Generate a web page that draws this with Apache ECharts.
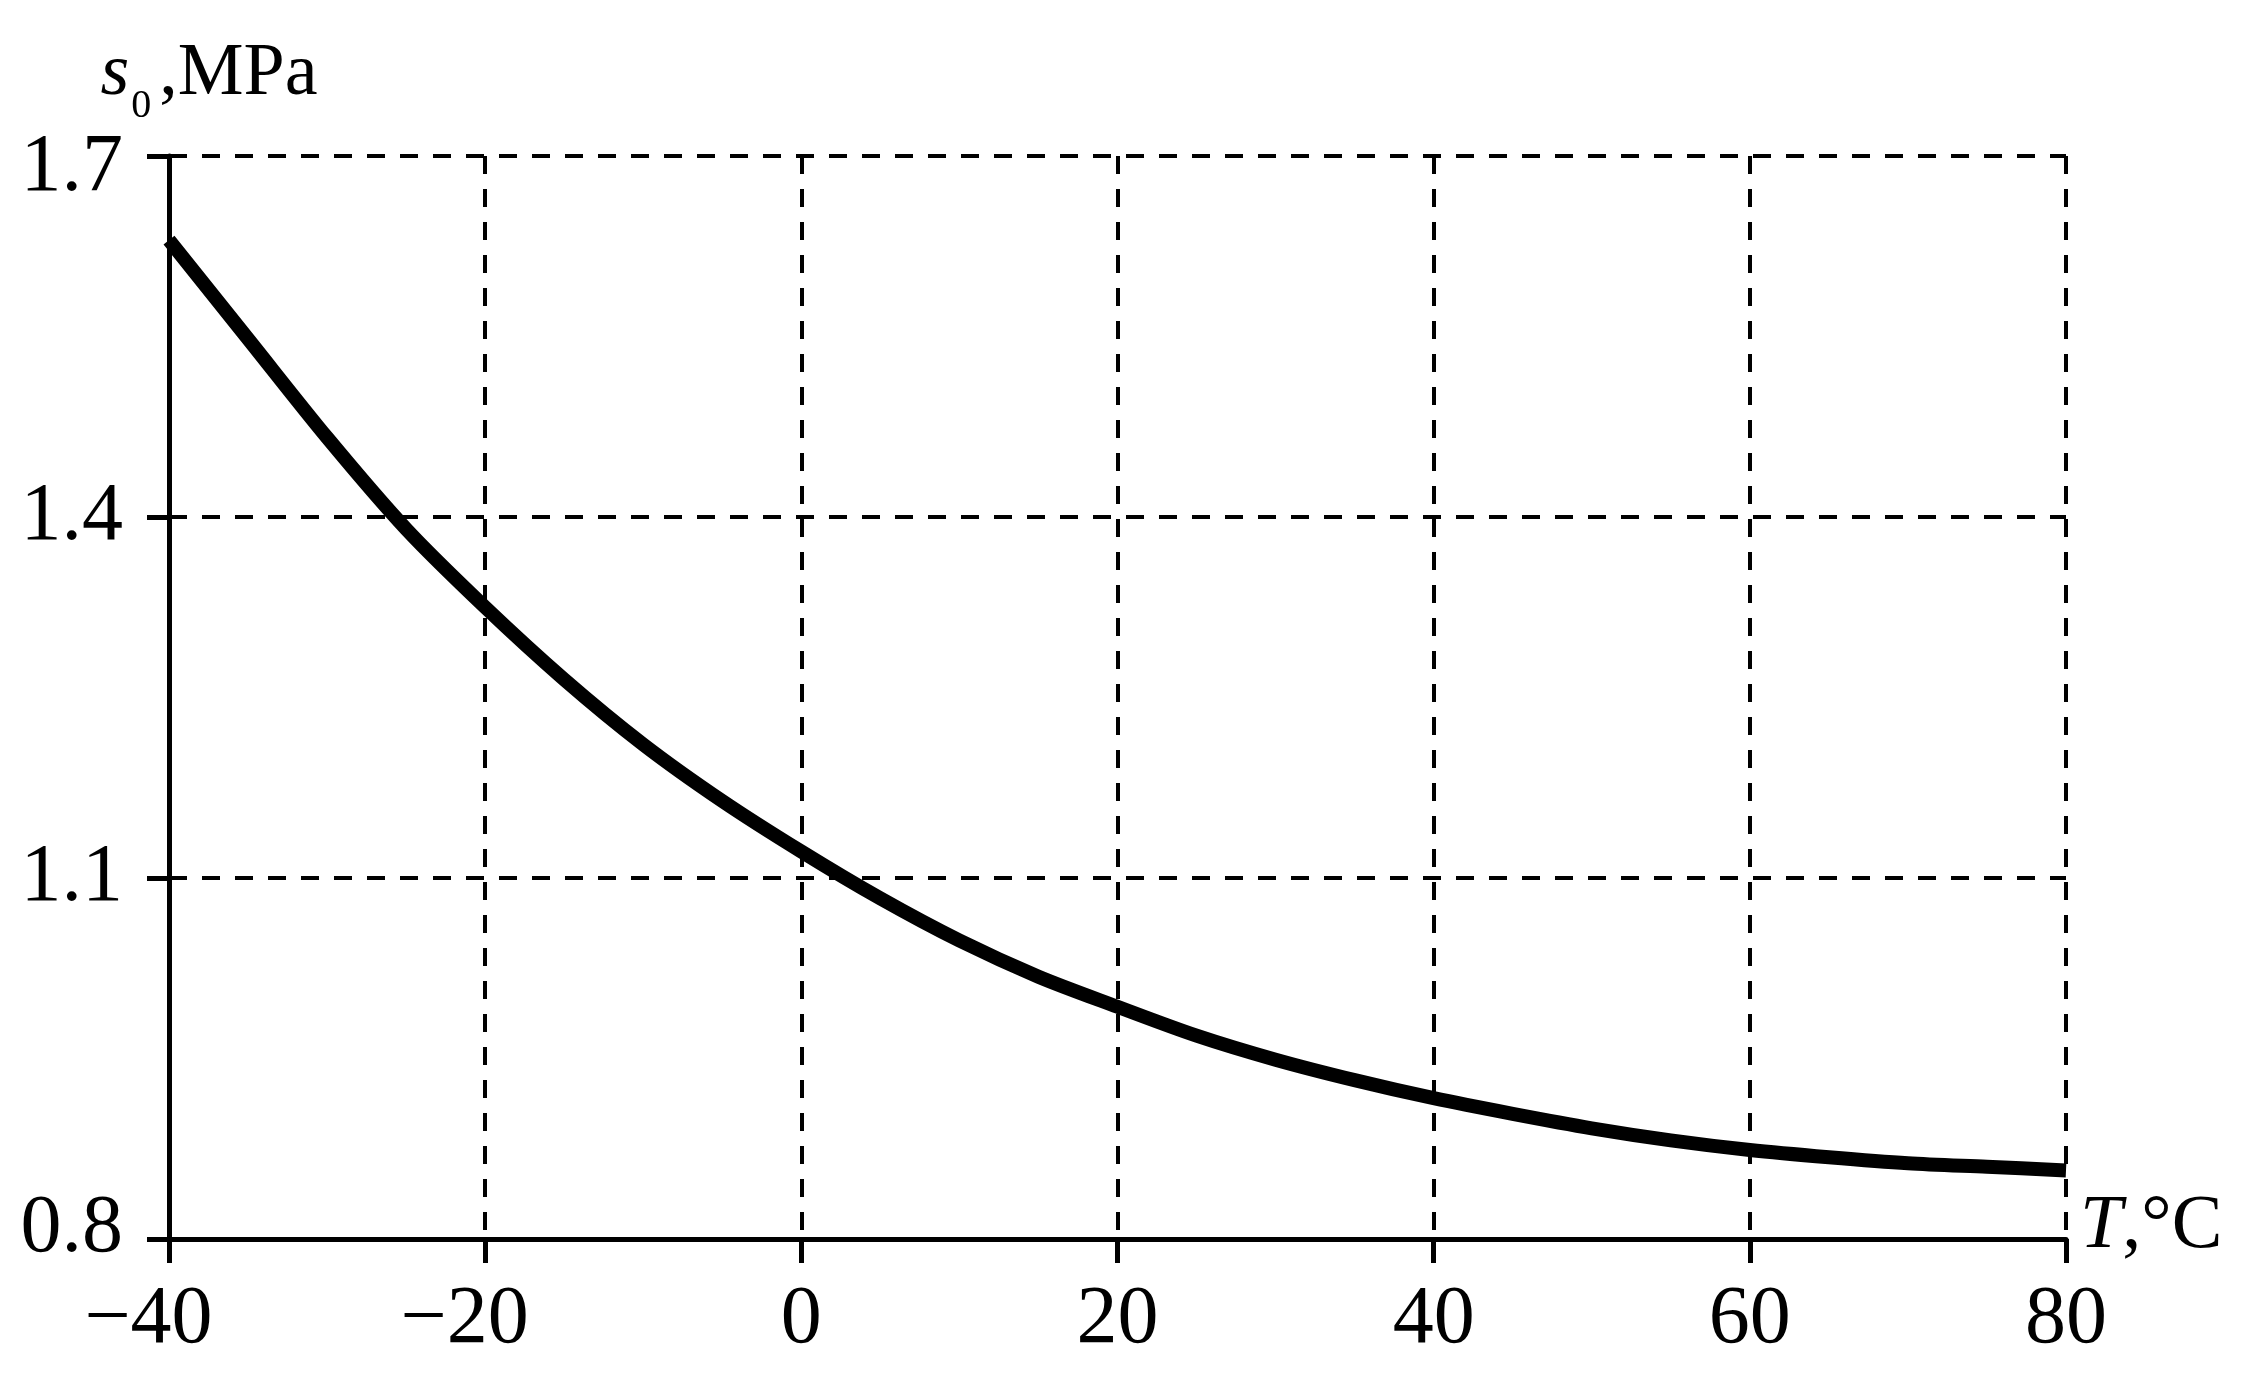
<!DOCTYPE html>
<html>
<head>
<meta charset="utf-8">
<title>s0 vs T</title>
<script src="https://cdn.jsdelivr.net/npm/echarts@6/dist/echarts.min.js"></script>
<style>
  html, body { margin: 0; padding: 0; background: #fff; }
  #chart { width: 2261px; height: 1392px; }
</style>
</head>
<body>
<div id="chart"></div>
<script>
// temperature, °C
const temps = [-40, -35, -30, -25, -20, -15, -10, -5, 0, 5, 10, 15, 20, 25, 30, 35, 40, 45, 50, 55, 60, 65, 70, 75, 80]
// s0, MPa
const s0 = [1.630, 1.548, 1.466, 1.390, 1.325, 1.265, 1.211, 1.164, 1.122, 1.083, 1.048, 1.018, 0.993, 0.969, 0.949, 0.932, 0.917, 0.904, 0.892, 0.882, 0.874, 0.868, 0.863, 0.860, 0.857]
// axis ticks
const xTicks = [-40, -20, 0, 20, 40, 60, 80]
const yTicks = [0.8, 1.1, 1.4, 1.7]

const font = '"Liberation Serif", "DejaVu Serif", serif'
const dashed = { color: '#000', width: 4, type: [18, 15] }

const chart = echarts.init(document.getElementById('chart'))
chart.setOption({
  backgroundColor: '#fff',
  animation: false,
  grid: { left: 169, right: 195, top: 156, bottom: 153 },
  xAxis: {
    type: 'value',
    min: xTicks[0],
    max: xTicks[xTicks.length - 1],
    interval: 20,
    name: '{i|T}{n|,°C}',
    nameLocation: 'end',
    nameGap: 14,
    nameTextStyle: {
      padding: [0, 0, 24, 0],
      rich: {
        i: { fontFamily: font, fontSize: 76, fontStyle: 'italic', color: '#000' },
        n: { fontFamily: font, fontSize: 76, color: '#000' }
      }
    },
    axisLine: { onZero: false, lineStyle: { color: '#000', width: 5 } },
    axisTick: { show: true, inside: false, length: 24, lineStyle: { color: '#000', width: 5 } },
    axisLabel: {
      margin: 40,
      color: '#000',
      fontFamily: font,
      fontSize: 82,
      formatter: function(v) {
        // minus sign hangs left of the tick, digits stay centred
        return v < 0 ? '\u2212' + Math.abs(v) + '\u2007' : String(v)
      }
    },
    splitLine: { show: true, lineStyle: dashed }
  },
  yAxis: {
    type: 'value',
    min: yTicks[0],
    max: yTicks[yTicks.length - 1],
    interval: 0.3,
    name: '{i|s}{sub|0}{n|,MPa}',
    nameLocation: 'end',
    nameGap: 30,
    nameTextStyle: {
      align: 'center',
      padding: [0, 0, 0, 80],
      rich: {
        i: { fontFamily: font, fontSize: 74, fontStyle: 'italic', color: '#000' },
        sub: { fontFamily: font, fontSize: 40, color: '#000', padding: [62, 8, 0, 2] },
        n: { fontFamily: font, fontSize: 74, color: '#000' }
      }
    },
    axisLine: { show: true, onZero: false, lineStyle: { color: '#000', width: 5 } },
    axisTick: { show: true, inside: false, length: 22, lineStyle: { color: '#000', width: 5 } },
    axisLabel: {
      margin: 46,
      color: '#000',
      fontFamily: font,
      fontSize: 82,
      formatter: function(v) {
        const t = v.toFixed(1)
        if (Math.abs(v - yTicks[yTicks.length - 1]) < 1e-6) return '{hi|' + t + '}'
        if (Math.abs(v - yTicks[0]) < 1e-6) return '{lo|' + t + '}'
        return t
      },
      rich: {
        hi: { fontFamily: font, fontSize: 82, color: '#000', padding: [24, 0, 0, 0] },
        lo: { fontFamily: font, fontSize: 82, color: '#000', padding: [0, 0, 20, 0] }
      }
    },
    splitLine: { show: true, lineStyle: dashed }
  },
  series: [
    {
      type: 'line',
      data: temps.map((t, i) => [t, s0[i]]),
      smooth: 0.3,
      showSymbol: false,
      lineStyle: { color: '#000', width: 14 }
    }
  ]
})
</script>
</body>
</html>
